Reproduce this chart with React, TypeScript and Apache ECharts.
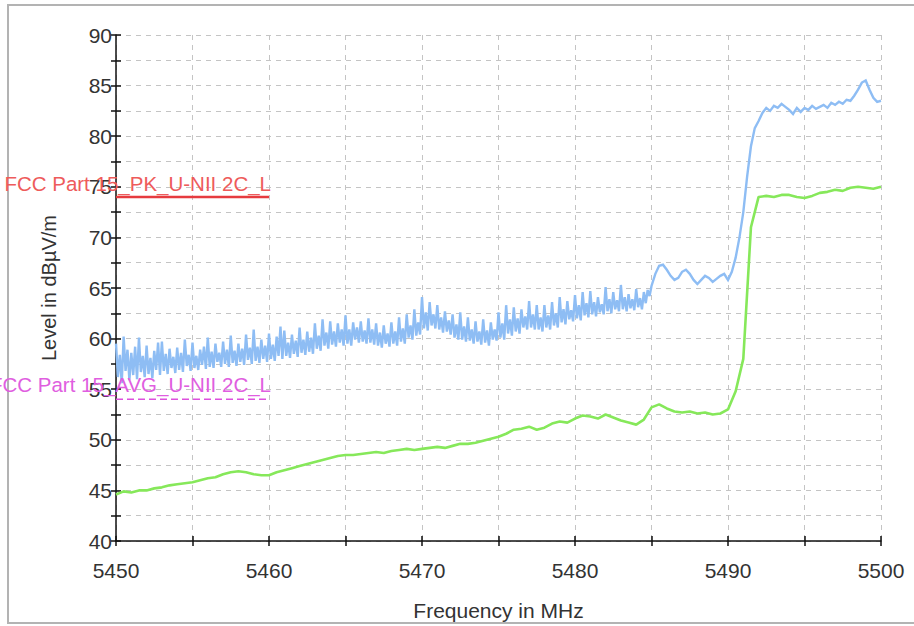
import React, { useEffect, useRef } from "react";
import * as echarts from "echarts";

const FREQ_START = 5450;
const NOISY_STEP = 0.125;
const SMOOTH_START = 5485;
const SMOOTH_STEP = 0.25;
const GREEN_STEP = 0.5;
const X_TICKS = [5450, 5460, 5470, 5480, 5490, 5500];
const Y_TICKS = [40, 45, 50, 55, 60, 65, 70, 75, 80, 85, 90];

// Peak trace (dBµV/m), 0.125 MHz steps from 5450 to 5484.875 MHz
const PEAK_LEVELS_NOISY = [
  59.5, 56.2, 58.4, 55.6, 60.2, 56.8, 58.9, 55.9,
  58.6, 56.4, 59.2, 56.0, 60.1, 56.7, 58.3, 56.2,
  59.3, 56.5, 58.1, 56.1, 58.8, 56.9, 59.6, 56.4,
  59.7, 56.8, 58.5, 56.5, 59.0, 57.1, 58.2, 56.6,
  59.1, 56.9, 58.6, 56.7, 59.9, 57.3, 58.4, 56.8,
  59.6, 57.1, 58.3, 56.9, 58.9, 57.4, 59.2, 57.0,
  60.1, 57.2, 58.7, 57.1, 59.5, 57.7, 58.6, 57.2,
  59.7, 57.5, 58.9, 57.2, 60.3, 57.6, 58.8, 57.3,
  59.5, 57.7, 59.0, 57.4, 60.4, 57.9, 59.1, 57.5,
  60.9, 57.8, 59.2, 57.6, 59.9, 58.0, 59.3, 57.7,
  60.5, 58.0, 59.4, 57.8, 60.2, 58.3, 61.2, 58.0,
  60.8, 58.3, 59.6, 58.1, 60.4, 58.5, 59.8, 58.2,
  61.1, 58.6, 59.9, 58.4, 60.7, 58.7, 60.1, 58.5,
  61.5, 59.0, 60.3, 58.8, 61.9, 59.3, 60.6, 59.0,
  61.7, 59.4, 60.7, 59.2, 61.5, 59.6, 60.9, 59.3,
  62.3, 59.5, 60.9, 59.3, 61.6, 59.9, 61.1, 59.6,
  61.7, 59.7, 60.8, 59.5, 62.0, 59.6, 60.9, 59.4,
  61.5, 59.3, 60.6, 59.1, 61.3, 59.5, 60.5, 59.2,
  61.6, 59.5, 60.7, 59.3, 62.1, 59.7, 61.0, 59.5,
  62.4, 60.1, 61.3, 59.9, 62.9, 60.3, 61.6, 60.4,
  64.1, 61.0, 62.6, 60.8, 63.6, 61.3, 62.4, 61.0,
  63.3, 60.9, 62.1, 60.6, 62.7, 60.7, 61.8, 60.4,
  62.4, 60.1, 61.4, 59.9, 62.6, 59.9, 61.2, 59.7,
  62.1, 59.8, 60.9, 59.5, 61.7, 59.7, 60.7, 59.4,
  61.9, 59.6, 60.8, 59.3, 61.6, 59.9, 60.9, 59.8,
  62.6, 60.1, 61.5, 59.9, 63.3, 60.5, 61.9, 60.3,
  63.1, 60.7, 62.0, 60.5, 62.9, 61.1, 62.2, 60.9,
  63.7, 61.1, 62.4, 60.9, 63.3, 60.9, 62.1, 60.7,
  63.3, 61.1, 62.3, 60.9, 63.6, 61.3, 62.5, 61.1,
  64.1, 61.6, 62.9, 61.4, 63.7, 61.9, 62.8, 61.7,
  64.3, 62.0, 63.3, 61.8, 64.6, 62.3, 63.5, 62.1,
  64.7, 62.4, 63.6, 62.2, 64.1, 62.6, 63.4, 62.4,
  65.1, 62.7, 63.9, 62.5, 64.6, 62.9, 63.8, 62.7,
  65.3, 62.9, 64.1, 62.7, 64.4, 63.0, 63.9, 62.8,
  64.9, 63.1, 64.0, 62.9, 64.6, 63.5, 64.8, 64.2,
];

// Peak trace (dBµV/m), 0.25 MHz steps from 5485 to 5500 MHz
const PEAK_LEVELS_SMOOTH = [
  65.2, 66.4, 67.2, 67.3,
  66.8, 66.2, 65.8, 66.0,
  66.6, 66.8, 66.4, 65.8,
  65.4, 65.8, 66.2, 66.0,
  65.6, 65.9, 66.2, 66.4,
  65.8, 66.6, 68.0, 70.0,
  72.5, 76.0, 79.0, 80.8,
  81.5, 82.3, 82.8, 82.5,
  83.0, 82.8, 83.2, 82.9,
  82.6, 82.2, 82.8, 82.4,
  82.8, 82.6, 83.0, 82.7,
  82.9, 83.1, 82.8, 83.3,
  83.1, 83.4, 83.2, 83.6,
  83.5, 84.0, 84.6, 85.3,
  85.5, 84.6, 83.8, 83.4,
  83.5,
];

// Average trace (dBµV/m), 0.5 MHz steps from 5450 MHz
const AVG_LEVELS = [
  44.6, 44.9, 44.8, 45.0, 45.0, 45.2, 45.3, 45.5, 45.6, 45.7,
  45.8, 46.0, 46.2, 46.3, 46.6, 46.8, 46.9, 46.8, 46.6, 46.5,
  46.5, 46.8, 47.0, 47.2, 47.4, 47.6, 47.8, 48.0, 48.2, 48.4,
  48.5, 48.5, 48.6, 48.7, 48.8, 48.7, 48.9, 49.0, 49.1, 49.0,
  49.1, 49.2, 49.3, 49.2, 49.4, 49.6, 49.6, 49.7, 49.9, 50.1,
  50.3, 50.6, 51.0, 51.1, 51.3, 51.0, 51.2, 51.6, 51.8, 51.7,
  52.1, 52.4, 52.3, 52.1, 52.5, 52.2, 51.9, 51.7, 51.5, 52.0,
  53.2, 53.5, 53.1, 52.8, 52.7, 52.8, 52.6, 52.7, 52.5, 52.6,
  53.0, 54.8, 58.0, 71.0, 74.0, 74.1, 74.0, 74.2, 74.2, 74.0,
  73.9, 74.1, 74.4, 74.5, 74.7, 74.6, 74.9, 75.0, 74.9, 74.8,
  75.0,
];

const PK_LIMIT_NAME = "FCC Part 15_PK_U-NII 2C_L";
const AVG_LIMIT_NAME = "FCC Part 15_AVG_U-NII 2C_L";
const PK_LIMIT = [[5450, 74], [5460, 74]];
const AVG_LIMIT = [[5450, 54], [5460, 54]];

const FONT = "'Liberation Sans', Arial, sans-serif";
const TEXT = "#333333";

export default function App() {
  const ref = useRef<HTMLDivElement>(null);

  useEffect(() => {
    if (!ref.current) return;
    const chart = echarts.init(ref.current, undefined, { renderer: "svg" });

    const peakData = [
      ...PEAK_LEVELS_NOISY.map((v, i) => [FREQ_START + i * NOISY_STEP, v]),
      ...PEAK_LEVELS_SMOOTH.map((v, i) => [SMOOTH_START + i * SMOOTH_STEP, v]),
    ];
    const avgData = AVG_LEVELS.map((v, i) => [FREQ_START + i * GREEN_STEP, v]);

    const xBase = {
      type: "value" as const,
      min: X_TICKS[0],
      max: X_TICKS[X_TICKS.length - 1],
      interval: 5,
    };
    const yBase = {
      type: "value" as const,
      min: Y_TICKS[0],
      max: Y_TICKS[Y_TICKS.length - 1],
      interval: 2.5,
    };

    chart.setOption({
      animation: false,
      backgroundColor: "#ffffff",
      grid: { left: 116, right: 33, top: 35, bottom: 83, containLabel: false },
      xAxis: [
        {
          ...xBase,
          position: "bottom",
          name: "Frequency in MHz",
          nameLocation: "middle",
          nameGap: 59,
          nameTextStyle: { fontFamily: FONT, fontSize: 21, color: TEXT },
          axisLine: { show: true, lineStyle: { color: "#111", width: 1.5 } },
          axisTick: { show: true, length: 5, lineStyle: { color: "#111", width: 1.5 } },
          axisLabel: {
            margin: 19,
            fontFamily: FONT,
            fontSize: 21,
            color: TEXT,
            formatter: (v: number) => (X_TICKS.includes(v) ? String(v) : ""),
          },
          splitLine: { show: true, lineStyle: { color: "#c4c4c4", type: [5, 5], width: 1 } },
        },
        {
          ...xBase,
          position: "bottom",
          offset: 0,
          axisLine: { show: false },
          axisTick: { show: true, inside: true, length: 5, lineStyle: { color: "#111", width: 1.5 } },
          axisLabel: { show: false },
          splitLine: { show: false },
        },
      ],
      yAxis: [
        {
          ...yBase,
          position: "left",
          name: "Level in dBµV/m",
          nameLocation: "middle",
          nameGap: 57,
          nameTextStyle: { fontFamily: FONT, fontSize: 20, color: TEXT },
          axisLine: { show: true, lineStyle: { color: "#111", width: 1.5 } },
          axisTick: { show: true, length: 5, lineStyle: { color: "#111", width: 1.5 } },
          axisLabel: {
            margin: 4,
            fontFamily: FONT,
            fontSize: 21,
            color: TEXT,
            formatter: (v: number) => (Y_TICKS.includes(v) ? String(v) : ""),
          },
          splitLine: { show: true, lineStyle: { color: "#c4c4c4", type: [5, 5], width: 1 } },
        },
        {
          ...yBase,
          position: "left",
          offset: 0,
          axisLine: { show: false },
          axisTick: { show: true, inside: true, length: 5, lineStyle: { color: "#111", width: 1.5 } },
          axisLabel: { show: false },
          splitLine: { show: false },
        },
      ],
      series: [
        {
          type: "line",
          name: "Peak",
          data: peakData,
          showSymbol: false,
          symbol: "none",
          lineStyle: { color: "#8ebdf4", width: 2.4, join: "miter" },
          z: 2,
        },
        {
          type: "line",
          name: "Average",
          data: avgData,
          showSymbol: false,
          symbol: "none",
          lineStyle: { color: "#86e85a", width: 2.6 },
          z: 3,
        },
        {
          type: "line",
          name: PK_LIMIT_NAME,
          data: PK_LIMIT,
          showSymbol: false,
          symbol: "none",
          lineStyle: { color: "#e63b3f", width: 2.5 },
          z: 4,
        },
        {
          type: "line",
          name: AVG_LIMIT_NAME,
          data: AVG_LIMIT,
          showSymbol: false,
          symbol: "none",
          lineStyle: { color: "#dd50dd", width: 1.6, type: [7, 4] },
          z: 4,
        },
      ],
    });

    const pkEnd = chart.convertToPixel({ gridIndex: 0 }, PK_LIMIT[1]) as number[];
    const avgEnd = chart.convertToPixel({ gridIndex: 0 }, AVG_LIMIT[1]) as number[];

    chart.setOption({
      graphic: [
        {
          type: "rect",
          shape: { x: 8, y: 5, width: 912, height: 618 },
          style: { fill: "none", stroke: "#b3b3b3", lineWidth: 2 },
          silent: true,
          z: 0,
        },
        {
          type: "text",
          x: pkEnd[0] + 2,
          y: pkEnd[1] - 3,
          style: {
            text: PK_LIMIT_NAME,
            fill: "#ee5b5b",
            font: `20.5px ${FONT}`,
            align: "right",
            verticalAlign: "bottom",
          },
          z: 10,
        },
        {
          type: "text",
          x: avgEnd[0] + 2,
          y: avgEnd[1] - 4,
          style: {
            text: AVG_LIMIT_NAME,
            fill: "#e05ee0",
            font: `20.5px ${FONT}`,
            align: "right",
            verticalAlign: "bottom",
          },
          z: 10,
        },
      ],
    });

    return () => chart.dispose();
  }, []);

  return (
    <div
      ref={ref}
      style={{ position: "fixed", left: 0, top: 0, width: 914, height: 626, background: "#fff" }}
    />
  );
}
